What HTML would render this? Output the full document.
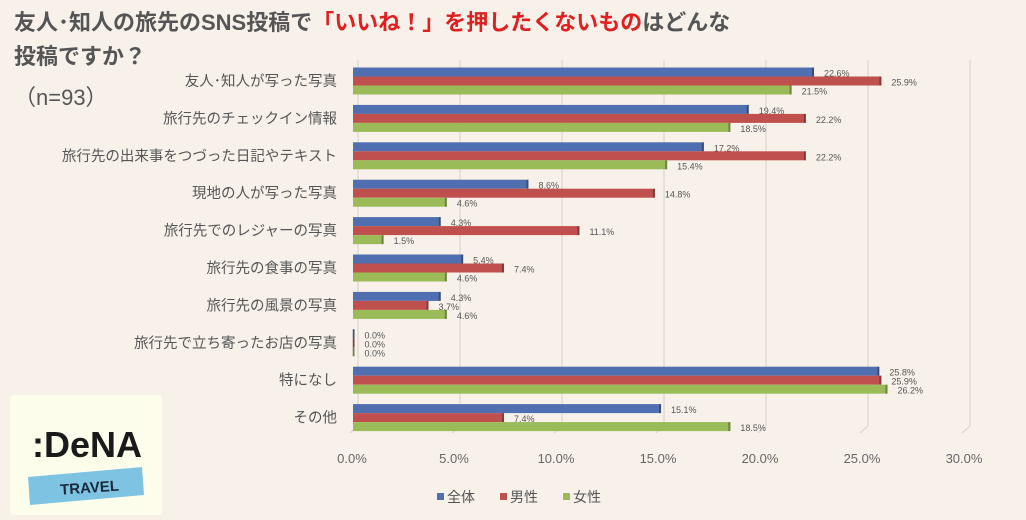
<!DOCTYPE html>
<html><head><meta charset="utf-8">
<style>
body{margin:0;width:1026px;height:520px;background:#f8f1e9;overflow:hidden;font-family:"Liberation Sans","Noto Sans CJK JP",sans-serif;}
#title{position:absolute;left:14px;top:6px;font-size:22px;line-height:34px;color:#555;font-weight:bold;}
#title .red{color:#e02020;}
#n{position:absolute;left:14px;top:80px;font-size:22px;color:#555;}
#logo{position:absolute;left:10px;top:395px;width:152px;height:120px;background:#fdfdec;border-radius:4px;}
</style></head><body>
<div id="title">友人･知人の旅先のSNS投稿で<span class="red">「いいね！」を押したくないもの</span>はどんな<br>投稿ですか？</div>
<div id="n">（n=93）</div>
<div id="logo">
<svg width="152" height="120">
<text x="22" y="62" font-size="36" font-weight="bold" font-family="Liberation Sans, sans-serif" fill="#1a1a1a" textLength="110" lengthAdjust="spacingAndGlyphs">:DeNA</text>
<polygon points="18,82 132,72 134,100 20,110" fill="#7fc3e3"/>
<text x="50" y="98" font-size="15" font-weight="bold" fill="#1a2a3a" transform="rotate(-4 75 92)">TRAVEL</text>
</svg></div>
<svg id="chart" width="1026" height="520" style="position:absolute;left:0;top:0"></svg>
<script>
const categories=["友人･知人が写った写真","旅行先のチェックイン情報","旅行先の出来事をつづった日記やテキスト","現地の人が写った写真","旅行先でのレジャーの写真","旅行先の食事の写真","旅行先の風景の写真","旅行先で立ち寄ったお店の写真","特になし","その他"];
const totalValues=[22.6,19.4,17.2,8.6,4.3,5.4,4.3,0.0,25.8,15.1];
const maleValues=[25.9,22.2,22.2,14.8,11.1,7.4,3.7,0.0,25.9,7.4];
const femaleValues=[21.5,18.5,15.4,4.6,1.5,4.6,4.6,0.0,26.2,18.5];
const ticks=[0,5,10,15,20,25,30];
const seriesNames=["全体","男性","女性"];
const colors=["#4f6fb0","#c0504d","#9bbb59"];
const svg=document.getElementById('chart');
const NS='http://www.w3.org/2000/svg';
const x0=355,k=20.4;
const X=v=>x0+v*k;
const Y=i=>81+i*37.4;
function el(t,a){const e=document.createElementNS(NS,t);for(const n in a)e.setAttribute(n,a[n]);svg.appendChild(e);return e;}
ticks.forEach(t=>{
  const g=el('line',{x1:X(t)+3,x2:X(t)+3,y1:60,y2:426,stroke:'#dcd6cf','stroke-width':1.2});
  
  
  const d=el('line',{x1:X(t)+3,x2:X(t)-5,y1:426,y2:433,stroke:'#dcd6cf','stroke-width':1.2});
  
  
  const tx=el('text',{x:X(t)-3,y:463,'font-size':13,fill:'#666','text-anchor':'middle'});
  tx.textContent=t.toFixed(1)+'%';
  
  
});
const series=[totalValues,maleValues,femaleValues];
categories.forEach((c,i)=>{
  const cy=Y(i);
  const lt=el('text',{x:337,y:cy+5,'font-size':14.5,fill:'#555','text-anchor':'end'});
  lt.textContent=c;
  
  
  series.forEach((s,j)=>{
    const y=cy-13.5+j*9;
    const w=Math.max(s[i]*k,1.5);
    const r=el('rect',{x:x0-2,y:y,width:w,height:9,fill:colors[j]});
    
    
    const sd=el('rect',{x:x0-2+w-2,y:y,width:2,height:9,fill:'rgba(0,0,0,0.3)'});
    
    
    const lv=el('text',{x:x0+w+8,y:y+9,'font-size':9,fill:'#555'});
    lv.textContent=s[i].toFixed(1)+'%';
    
    
  });
});
seriesNames.forEach((n,j)=>{
  const lx=437+j*63;
  const r=el('rect',{x:lx,y:493,width:7,height:7,fill:colors[j]});
  
  
  const t=el('text',{x:lx+10,y:502,'font-size':14,fill:'#555'});
  t.textContent=n;
  
  
});
</script>
</body></html>
